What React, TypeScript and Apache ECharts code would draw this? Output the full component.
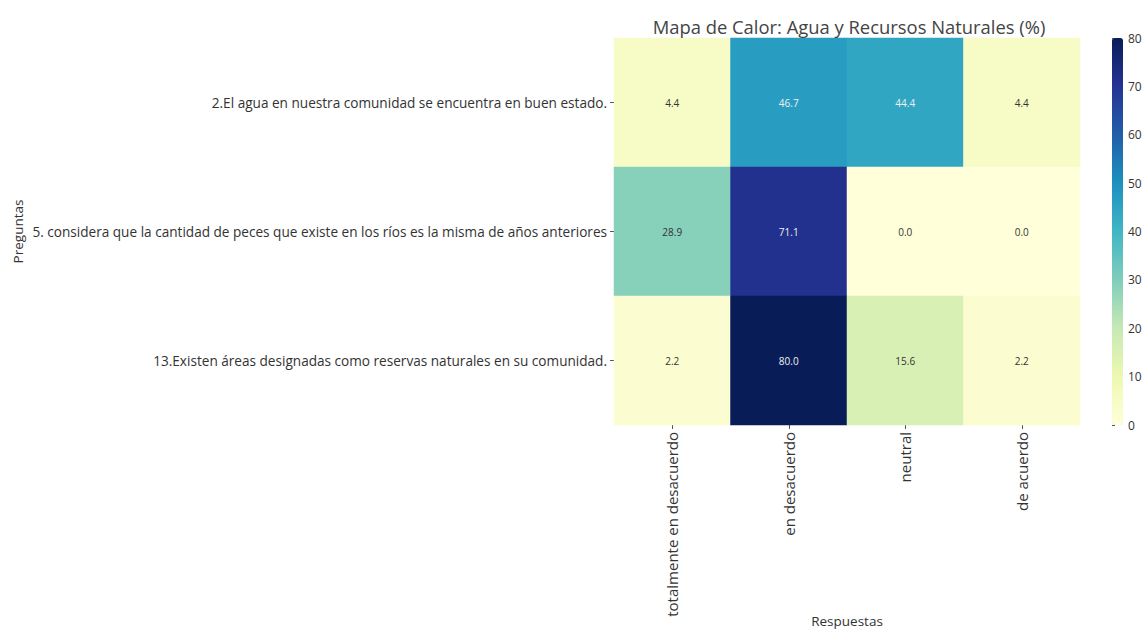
import React, { useEffect, useRef } from "react";
import * as echarts from "echarts";

const questions = [
  "2.El agua en nuestra comunidad se encuentra en buen estado.",
  "5. considera que la cantidad de peces que existe en los ríos es la misma de años anteriores",
  "13.Existen áreas designadas como reservas naturales en su comunidad.",
];
const responses = ["totalmente en desacuerdo", "en desacuerdo", "neutral", "de acuerdo"];
const row0 = [4.4, 46.7, 44.4, 4.4];
const row1 = [28.9, 71.1, 0.0, 0.0];
const row2 = [2.2, 80.0, 15.6, 2.2];
const rows = [row0, row1, row2];
const ylgnbu = ["#ffffd9", "#edf8b1", "#c7e9b4", "#7fcdbb", "#41b6c4", "#1d91c0", "#225ea8", "#253494", "#081d58"];

export default function App() {
  const ref = useRef<HTMLDivElement>(null);
  useEffect(() => {
    if (!ref.current) return;
    const chart = echarts.init(ref.current, undefined, { renderer: "svg" });
    const data: [number, number, number][] = [];
    rows.forEach((r, yi) => r.forEach((v, xi) => data.push([xi, yi, v])));
    const font = "'Open Sans', 'DejaVu Sans', sans-serif";
    chart.setOption({
      animation: false,
      backgroundColor: "#ffffff",
      textStyle: { fontFamily: font },
      title: {
        text: "Mapa de Calor: Agua y Recursos Naturales (%)",
        left: 844,
        textAlign: "center",
        top: 12,
        textStyle: { fontSize: 18.4, fontWeight: "normal", color: "#444", fontFamily: font },
      },
      grid: [
        { left: 614, right: 66, top: 38, bottom: 205, outerBoundsMode: "none", containLabel: false },
        { left: 1112, width: 11, top: 38, height: 387, outerBoundsMode: "none", containLabel: false },
      ],
      xAxis: [
        {
          type: "category",
          gridIndex: 0,
          data: responses,
          name: "Respuestas",
          nameLocation: "middle",
          nameGap: 189,
          nameMoveOverlap: false,
          nameTextStyle: { fontSize: 13.5, color: "#333" },
          axisLine: { show: false },
          axisTick: { show: true, alignWithLabel: true, length: 4, lineStyle: { color: "#555" } },
          axisLabel: { rotate: 90, fontSize: 15, color: "#333", margin: 7 },
          splitLine: { show: false },
        },
        { type: "value", gridIndex: 1, show: false, min: 0, max: 1 },
      ],
      yAxis: [
        {
          type: "category",
          gridIndex: 0,
          inverse: true,
          data: questions,
          name: "Preguntas",
          nameLocation: "middle",
          nameGap: 589,
          nameMoveOverlap: false,
          nameRotate: 90,
          nameTextStyle: { fontSize: 13.5, color: "#333" },
          axisLine: { show: false },
          axisTick: { show: true, alignWithLabel: true, length: 4, lineStyle: { color: "#555" } },
          axisLabel: { fontSize: 13.6, color: "#333", margin: 7 },
          splitLine: { show: false },
        },
        {
          type: "value",
          gridIndex: 1,
          position: "right",
          min: 0,
          max: 80,
          interval: 10,
          axisLine: { show: false },
          axisTick: { show: true, length: 3, lineStyle: { color: "#555" } },
          axisLabel: { fontSize: 12, color: "#333", margin: 5 },
          splitLine: { show: false },
        },
      ],
      visualMap: {
        type: "continuous",
        seriesIndex: 0,
        min: 0,
        max: 80,
        calculable: false,
        left: 1112,
        top: 38,
        itemWidth: 11,
        itemHeight: 387,
        padding: 0,
        text: null,
        showLabel: false,
        inRange: { color: ylgnbu },
      },
      series: [
        {
          type: "heatmap",
          xAxisIndex: 0,
          yAxisIndex: 0,
          data: data.map((d) => ({
            value: d,
            label: { color: d[2] > 40 ? "#f0f0f0" : "#333" },
          })),
          label: {
            show: true,
            fontSize: 10,
            formatter: (p: any) => p.value[2].toFixed(1),
          },
          itemStyle: { borderWidth: 0 },
          emphasis: { disabled: true },
        },
      ],
    });
    return () => chart.dispose();
  }, []);
  return <div ref={ref} style={{ position: "fixed", left: 0, top: 0, width: 1146, height: 630 }} />;
}
